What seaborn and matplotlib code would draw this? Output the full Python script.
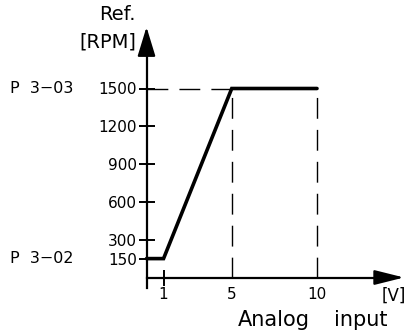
import numpy as np
import seaborn as sns
import matplotlib.pyplot as plt

# analog input [V] vs reference [RPM]
volts = [0, 1, 5, 10]
rpm = [150, 150, 1500, 1500]

ytick_vals = [150, 300, 600, 900, 1200, 1500]
xtick_vals = [1, 5, 10]
xtick_labels = ["1", "5", "10"]
par_labels = {150: "P  3−02", 1500: "P  3−03"}

W, H = 407, 333
# pixel position of origin and scale
x0_px, y0_px = 146.5, 277.5
px_per_v = 17.05
px_per_rpm = 0.126

sns.set_style("white", {"xtick.bottom": True, "ytick.left": True})
plt.rcParams['font.family'] = ['DejaVu Sans']
plt.rcParams.update({"text.color": "black", "xtick.color": "black",
                     "ytick.color": "black", "axes.edgecolor": "black"})

fig = plt.figure(figsize=(W / 100, H / 100), dpi=100)
ax = fig.add_axes([0, 0, 1, 1])
ax.set_xlim(-x0_px / px_per_v, (W - x0_px) / px_per_v)
ax.set_ylim(-(H - y0_px) / px_per_rpm, y0_px / px_per_rpm)

sns.lineplot(x=volts, y=rpm, ax=ax, color="black", lw=2.6,
             solid_joinstyle="miter", estimator=None, sort=False)

# dashed guides
dash = (0, (15, 8))
ax.plot([0, volts[2]], [rpm[2], rpm[2]], color="black", lw=1.0, ls=dash)
for v in (volts[2], volts[3]):
    ax.plot([v, v], [0, rpm[2]], color="black", lw=1.0, ls=dash)

# axes with arrows
for side in ("top", "right"):
    ax.spines[side].set_visible(False)
ax.spines["left"].set_position(("data", 0))
ax.spines["bottom"].set_position(("data", 0))
ax.spines["left"].set_linewidth(1.6)
ax.spines["bottom"].set_linewidth(1.6)
ax.spines["left"].set_bounds(-(288 - y0_px) / px_per_rpm, (y0_px - 53) / px_per_rpm)
ax.spines["bottom"].set_bounds(0, (380 - x0_px) / px_per_v)

ax.annotate("", xy=(0, (y0_px - 27) / px_per_rpm), xytext=(0, (y0_px - 55) / px_per_rpm),
            arrowprops=dict(arrowstyle="-|>,head_length=1.8,head_width=0.55",
                            color="black", lw=1.6, shrinkA=0, shrinkB=0))
ax.annotate("", xy=((404 - x0_px) / px_per_v, 0), xytext=((377 - x0_px) / px_per_v, 0),
            arrowprops=dict(arrowstyle="-|>,head_length=1.8,head_width=0.45",
                            color="black", lw=1.6, shrinkA=0, shrinkB=0))

ax.set_yticks(ytick_vals)
ax.set_yticklabels([str(v) for v in ytick_vals])
ax.set_xticks(xtick_vals)
ax.set_xticklabels(xtick_labels)
ax.tick_params(axis="y", direction="inout", length=12, width=1.4, pad=1, labelsize=11)
ax.tick_params(axis="x", direction="inout", length=12, width=1.4, pad=1, labelsize=11)
for i, t in enumerate(ax.xaxis.get_major_ticks()):
    if i > 0:
        t.tick1line.set_visible(False)

for val, lab in par_labels.items():
    ax.text(10 / W, val, lab, transform=ax.get_yaxis_transform(),
            ha="left", va="center", fontsize=11.5)

fig.text(136 / W, 1 - 42 / H, "[RPM]", ha="right", va="center", fontsize=14)
fig.text(136 / W, 1 - 15 / H, "Ref.", ha="right", va="center", fontsize=14)
fig.text(406 / W, 1 - 296 / H, "[V]", ha="right", va="center", fontsize=12)
fig.text(238 / W, 1 - 320 / H, "Analog", ha="left", va="center", fontsize=15)
fig.text(388 / W, 1 - 320 / H, "input", ha="right", va="center", fontsize=15)

ax.set_xlabel("")
ax.set_ylabel("")
fig.savefig("out.png", dpi=100)
